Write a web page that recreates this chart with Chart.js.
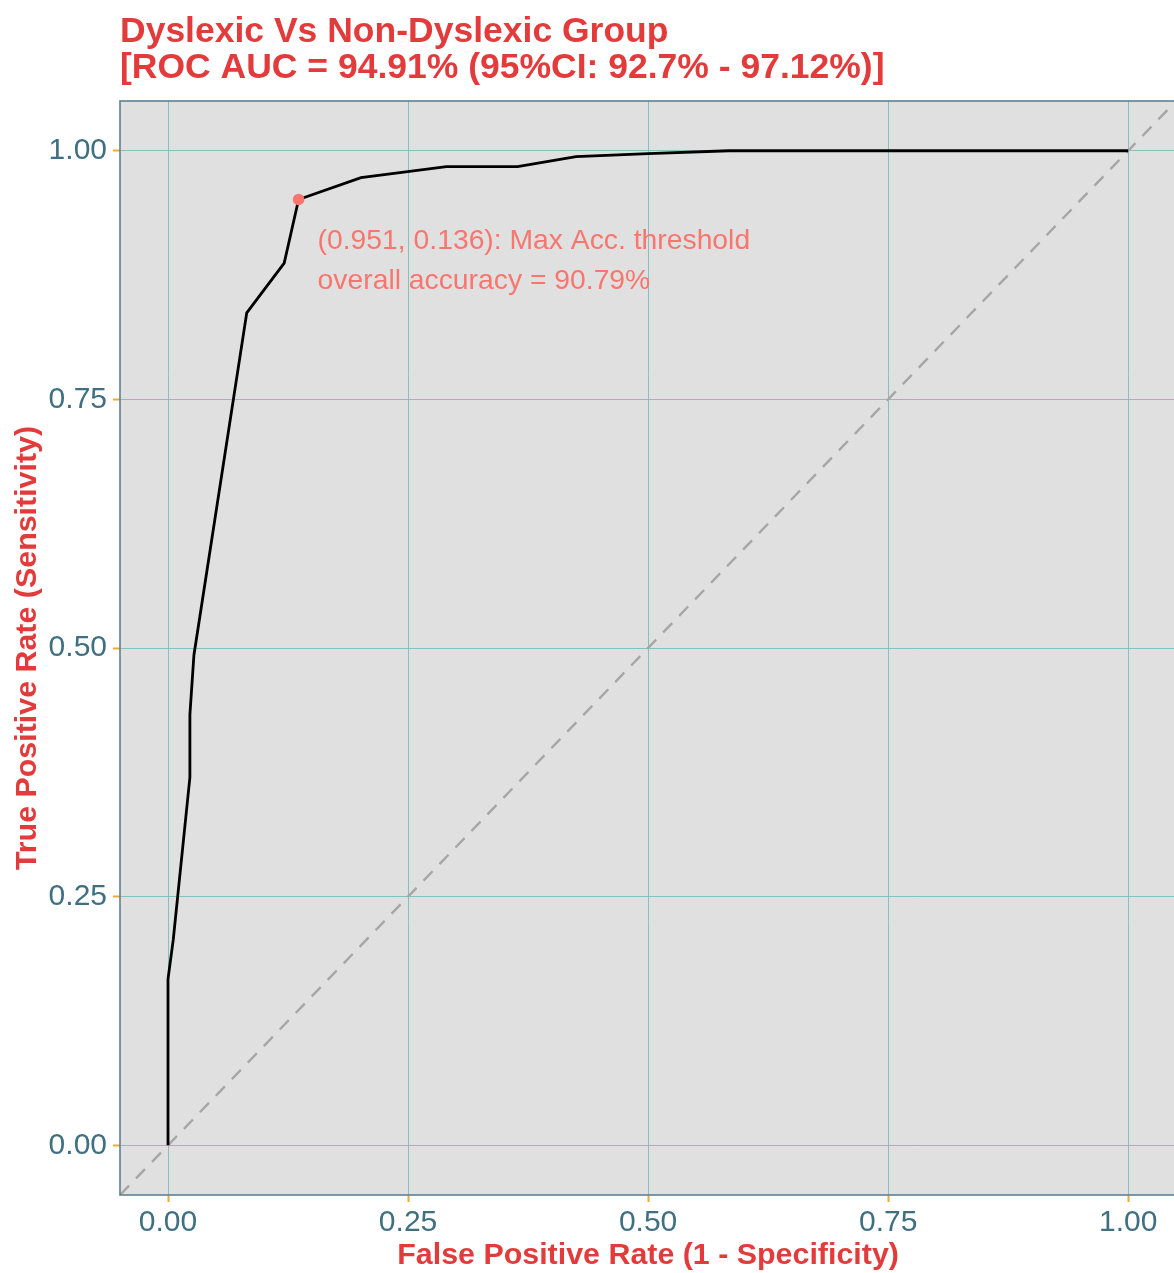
<!DOCTYPE html>
<html>
<head>
<meta charset="utf-8">
<title>ROC curve – Dyslexic vs Non-Dyslexic</title>
<script src="https://cdn.jsdelivr.net/npm/chart.js@4.4.1/dist/chart.umd.min.js"></script>
<style>
  html, body { margin: 0; padding: 0; overflow: hidden; background: #ffffff; }
  #wrap { width: 1174px; height: 1273px; overflow: hidden; position: relative; }
  canvas { display: block; }
</style>
</head>
<body>
<div id="wrap"><canvas id="roc" width="1182" height="1273"></canvas></div>
<script>
// ROC curve coordinates (false positive rate, true positive rate)
const fpr = [0, 0, 0.0055, 0.0228, 0.0228, 0.027, 0.082, 0.121, 0.136, 0.201, 0.290, 0.364, 0.425, 0.500, 0.584, 1.0];
const tpr = [0, 0.167, 0.207, 0.370, 0.433, 0.493, 0.837, 0.887, 0.951, 0.973, 0.984, 0.984, 0.994, 0.997, 1.0, 1.0];

// Max-accuracy threshold on the curve
const cutFpr = 0.136;
const cutTpr = 0.951;
const overallAccuracy = 90.79;

// Reference (chance) diagonal
const chanceX = [-0.05, 1.05];
const chanceY = [-0.05, 1.05];

// Axis ticks and texts
const tickValues = [0, 0.25, 0.5, 0.75, 1];
const titleLines = ['Dyslexic Vs Non-Dyslexic Group', '[ROC AUC = 94.91% (95%CI: 92.7% - 97.12%)]'];
const xTitle = 'False Positive Rate (1 - Specificity)';
const yTitle = 'True Positive Rate (Sensitivity)';

const FONT = '"Liberation Sans", Arial, Helvetica, sans-serif';
const RED = '#e33b3b';
const SALMON = '#F8766D';
const TICK_TEXT = '#416f82';
const GRID = '#84c0c0';
const TICK_MARK = '#f2a92c';
const FRAME = '#5f8190';

Chart.defaults.font.family = FONT;

const curve = fpr.map((x, i) => ({ x, y: tpr[i] }));
const chance = chanceX.map((x, i) => ({ x, y: chanceY[i] }));

const panelPlugin = {
  id: 'panel',
  beforeDraw(chart) {
    const { ctx, chartArea: a } = chart;
    ctx.save();
    ctx.fillStyle = '#ffffff';
    ctx.fillRect(0, 0, chart.width, chart.height);
    ctx.fillStyle = '#e0e0e0';
    ctx.fillRect(a.left, a.top, a.right - a.left, a.bottom - a.top);
    ctx.restore();
  },
  afterDraw(chart) {
    const { ctx, chartArea: a, scales } = chart;
    ctx.save();
    // panel frame
    ctx.strokeStyle = FRAME;
    ctx.lineWidth = 1.6;
    ctx.strokeRect(a.left, a.top, a.right - a.left, a.bottom - a.top);

    // plot title
    ctx.fillStyle = RED;
    ctx.font = 'bold 35.5px ' + FONT;
    ctx.textAlign = 'left';
    ctx.textBaseline = 'alphabetic';
    ctx.fillText(titleLines[0], 120, 42);
    ctx.fillText(titleLines[1], 120, 78);

    // threshold annotation
    const px = scales.x.getPixelForValue(cutFpr);
    const py = scales.y.getPixelForValue(cutTpr);
    ctx.fillStyle = SALMON;
    ctx.font = '28.3px ' + FONT;
    ctx.fillText('(' + cutTpr.toFixed(3) + ', ' + cutFpr.toFixed(3) + '): Max Acc. threshold', px + 19, py + 50);
    ctx.fillText('overall accuracy = ' + overallAccuracy.toFixed(2) + '%', px + 19, py + 90);
    ctx.restore();
  }
};

const fixedTicks = (scale) => { scale.ticks = tickValues.map(v => ({ value: v })); };

new Chart(document.getElementById('roc'), {
  type: 'line',
  data: {
    datasets: [
      {
        label: 'Max accuracy',
        type: 'scatter',
        data: [{ x: cutFpr, y: cutTpr }],
        pointRadius: 5.8,
        pointBackgroundColor: SALMON,
        pointBorderWidth: 0,
        order: 0
      },
      {
        label: 'ROC',
        data: curve,
        borderColor: '#000000',
        borderWidth: 2.8,
        pointRadius: 0,
        tension: 0,
        fill: false,
        order: 1
      },
      {
        label: 'Chance',
        data: chance,
        borderColor: '#a6a6a6',
        borderWidth: 2.4,
        borderDash: [13, 10],
        pointRadius: 0,
        tension: 0,
        fill: false,
        order: 2
      }
    ]
  },
  options: {
    responsive: false,
    animation: false,
    layout: { padding: { top: 101, left: 0, right: 4, bottom: 0 } },
    plugins: {
      legend: { display: false },
      tooltip: { enabled: false },
      title: { display: false }
    },
    scales: {
      x: {
        type: 'linear',
        min: -0.05,
        max: 1.05,
        afterBuildTicks: fixedTicks,
        afterFit: (s) => { s.height = 78; },
        grid: { color: GRID, lineWidth: 1, tickColor: TICK_MARK, tickLength: 7, tickWidth: 2 },
        border: { display: false },
        ticks: {
          color: TICK_TEXT,
          font: { size: 30 },
          padding: 3,
          maxRotation: 0,
          autoSkip: false,
          callback: (v) => Number(v).toFixed(2)
        },
        title: {
          display: true,
          text: xTitle,
          color: RED,
          font: { size: 30.4, weight: 'bold', lineHeight: 1 },
          padding: { top: 0, bottom: 2 }
        }
      },
      y: {
        type: 'linear',
        min: -0.05,
        max: 1.05,
        afterBuildTicks: fixedTicks,
        afterFit: (s) => { s.width = 120; },
        grid: { color: GRID, lineWidth: 1, tickColor: TICK_MARK, tickLength: 7, tickWidth: 2 },
        border: { display: false },
        ticks: {
          color: TICK_TEXT,
          font: { size: 30 },
          padding: 6,
          autoSkip: false,
          callback: (v) => Number(v).toFixed(2)
        },
        title: {
          display: true,
          text: yTitle,
          color: RED,
          font: { size: 30.4, weight: 'bold', lineHeight: 1 },
          padding: { top: 12, bottom: 0 }
        }
      }
    }
  },
  plugins: [panelPlugin]
});
</script>
</body>
</html>
